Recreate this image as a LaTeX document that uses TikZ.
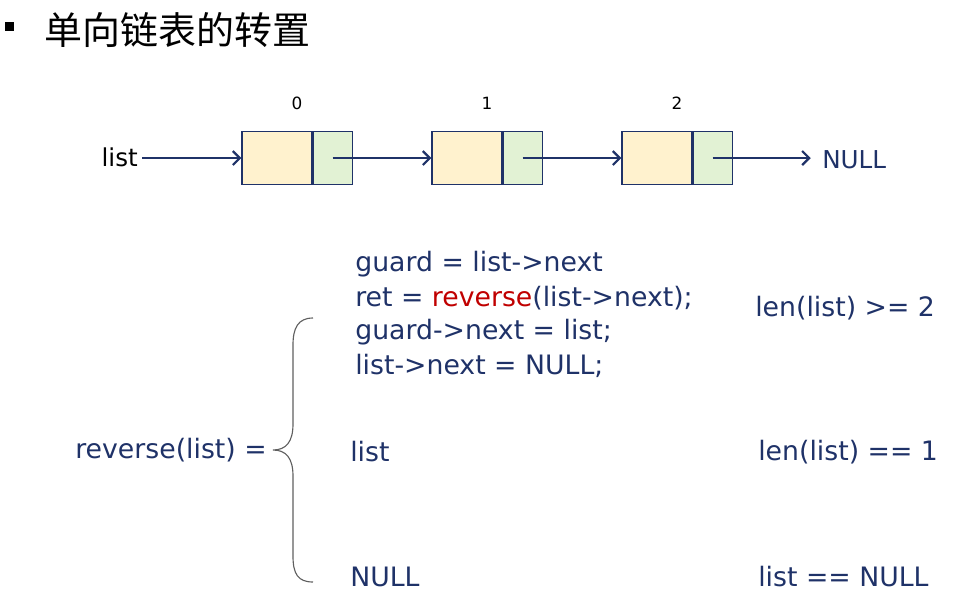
\documentclass[tikz,border=0pt]{standalone}
\usepackage{fontspec}
\setmainfont{DejaVu Sans}
\newfontfamily\cjk{Noto Sans CJK SC}
\usetikzlibrary{positioning,arrows.meta}
\definecolor{navy}{RGB}{31,50,104}
\definecolor{cellyellow}{RGB}{255,242,206}
\definecolor{cellgreen}{RGB}{226,242,212}
\definecolor{codered}{RGB}{192,0,0}
\definecolor{bracegray}{RGB}{95,95,95}
\tikzset{
  datacell/.style={draw=navy, fill=cellyellow, minimum width=1.75cm, minimum height=1.325cm, inner sep=0pt, line width=0.8pt},
  nextcell/.style={draw=navy, fill=cellgreen, minimum width=0.975cm, minimum height=1.325cm, inner sep=0pt, line width=0.8pt},
  ptr/.style={-{Straight Barb[length=5pt,width=10pt]}, draw=navy, line width=1.6pt},
  code/.style={text=navy, font=\fontsize{19}{23}\selectfont, anchor=west, inner sep=0pt},
  idx/.style={font=\fontsize{12}{14}\selectfont},
}
\begin{document}
\begin{tikzpicture}[x=0.025cm, y=-0.025cm]
\useasboundingbox (0,0) rectangle (956,601);

% title
\fill (5,22) rectangle (14,31);
\node[anchor=west, inner sep=0pt, font=\cjk\fontsize{27}{30}\selectfont] (title) at (44,30) {单向链表的转置};

% the list
\node[datacell] (d0) at (277,158) {};
\node[nextcell, right=0pt of d0] (n0) {};
\node[datacell] (d1) at (467,158) {};
\node[nextcell, right=0pt of d1] (n1) {};
\node[datacell] (d2) at (657,158) {};
\node[nextcell, right=0pt of d2] (n2) {};

\node[idx] (i0) at (297,103) {0};
\node[idx] (i1) at (487,103) {1};
\node[idx] (i2) at (677,103) {2};

\node[anchor=east, inner sep=0pt, font=\fontsize{17.5}{20}\selectfont] (head) at (138,157) {list};
\node[anchor=west, inner sep=0pt, text=navy, font=\fontsize{17.5}{20}\selectfont] (null) at (822,160) {NULL};
\coordinate[right=3pt of head.east] (h);
\coordinate[left=8pt of null.west] (t);

\draw[ptr] (h |- d0.west) -- (d0.west);
\draw[ptr] (n0.center) -- (d1.west);
\draw[ptr] (n1.center) -- (d2.west);
\draw[ptr] (n2.center) -- (n2.center -| t);

% definition
\node[code, anchor=east] (lhs) at (267,450) {reverse(list) =};

\draw[bracegray, line width=0.8pt] (313,318) .. controls (298,318) and (293,328) .. (293,345)
  -- (293,424) .. controls (293,442) and (286,450) .. (273,450)
  .. controls (286,450) and (293,458) .. (293,476)
  -- (293,556) .. controls (293,574) and (298,582) .. (313,582);

\node[code] (c1) at (355,264) {guard = list->next};
\node[code] (c2) at (355,298) {ret = \textcolor{codered}{reverse}(list->next);};
\node[code] (c3) at (355,332) {guard->next = list;};
\node[code] (c4) at (355,366) {list->next = NULL;};
\node[code] (c5) at (350,452) {list};
\node[code] (c6) at (350,577) {NULL};

\node[code] (k1) at (755,308) {len(list) >= 2};
\node[code] (k2) at (758,452) {len(list) == 1};
\node[code] (k3) at (758,577) {list == NULL};
\end{tikzpicture}
\end{document}
